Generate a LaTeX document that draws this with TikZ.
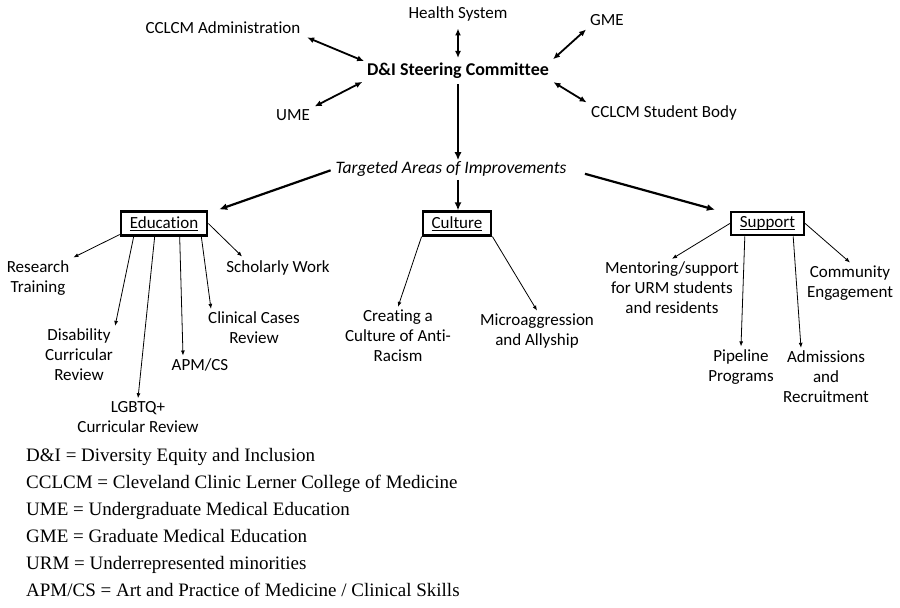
\documentclass[tikz,border=0pt]{standalone}
\usepackage{fontspec}
\setmainfont[Ligatures=NoCommon]{Carlito}
\newfontfamily\legendfont{Liberation Serif}
\usetikzlibrary{arrows.meta,positioning}
% underline as Word draws it: through the descenders
\newcommand\areaul[1]{\setbox0\hbox{#1}\rlap{\rule[-2.2pt]{\wd0}{0.9pt}}#1}

\begin{document}
\begin{tikzpicture}[x=1pt,y=-1pt,
  lbl/.style={font=\fontsize{17}{20}\selectfont,align=center,inner sep=1pt},
  area/.style={draw,line width=2.2pt,inner xsep=9pt,inner ysep=5pt,font=\fontsize{17}{20}\selectfont},
  dbl/.style={{Latex[length=7pt,width=6pt]}-{Latex[length=7pt,width=6pt]},line width=1.8pt},
  big/.style={-{Latex[length=8pt,width=7pt]},line width=2.2pt},
  thin/.style={-{Latex[length=5pt,width=4pt]},line width=0.8pt}]
\useasboundingbox (0,0) rectangle (900,608);
% top level
\node[lbl] (hs) at (458,14){Health System};
\node[lbl] (admin) at (223,28){CCLCM Administration};
\node[lbl] (gme) at (607,20){GME};
\node[lbl,font=\fontsize{18}{20}\selectfont\bfseries] (dni) at (458,71){D\&I Steering Committee};
\node[lbl] (ume) at (293,115){UME};
\node[lbl] (stu) at (664,113){CCLCM Student Body};
\draw[dbl,shorten <=6pt,shorten >=2pt] (admin.south east) -- (dni.north west);
\draw[dbl,shorten <=6pt,shorten >=4pt] (hs.south) -- (dni.north);
\draw[dbl,shorten <=4pt,shorten >=4pt] (gme.south west) -- (dni.north east);
\draw[dbl,shorten <=4pt,shorten >=4pt] (ume.north east) -- (dni.south west);
\draw[dbl,shorten <=4pt,shorten >=4pt] (stu.north west) -- (dni.south east);
% targeted areas
\node[lbl,font=\fontsize{17.5}{20}\selectfont\itshape] (tai) at (451,169){Targeted Areas of Improvements};
\draw[big,shorten <=4pt] (dni.south) -- (tai.north -| dni.south);
\node[area] (edu) at (164,223.5){\areaul{Education}};
\node[area] (cul) at (457,223.5){\areaul{Culture}};
\node[area] (sup) at (767.5,223.5){\areaul{Support}};
\draw[big,shorten <=4pt,shorten >=3pt] (tai.west) -- ([xshift=8pt]edu.north east);
\draw[big,shorten <=2pt] (tai.south -| dni.south) -- (cul.north -| dni.south);
\draw[big,shorten <=18pt,shorten >=3pt] (tai.east) -- ([xshift=-12pt]sup.north west);
% education
\node[lbl] (rt) at (38,278){Research\\Training};
\node[lbl] (dis) at (79,355){Disability\\Curricular\\Review};
\node[lbl] (lgb) at (138,417){LGBTQ+\\Curricular Review};
\node[lbl] (apm) at (200,365){APM/CS};
\node[lbl] (ccr) at (254,328){Clinical Cases\\Review};
\node[lbl] (sw) at (278,268){Scholarly Work};
\draw[thin] (edu.-166) -- ([xshift=3pt,yshift=2pt]rt.north east);
\draw[thin] ([xshift=14pt]edu.south west) -- ([xshift=1pt,yshift=2pt]dis.north east);
\draw[thin] ([xshift=35pt]edu.south west) -- ([yshift=2pt]lgb.north);
\draw[thin] ([xshift=60pt]edu.south west) -- ([xshift=-17pt,yshift=2pt]apm.north);
\draw[thin] ([xshift=-7pt]edu.south east) -- ([xshift=4pt,yshift=2pt]ccr.north west);
\draw[thin] (edu.east) -- ([xshift=17pt,yshift=3pt]sw.north west);
% culture
\node[lbl] (car) at (398,336){Creating a\\Culture of Anti-\\Racism};
\node[lbl] (mic) at (537,331){Microaggression\\and Allyship};
\draw[thin] (cul.south west) -- ([yshift=2pt]car.north);
\draw[thin] (cul.south east) -- ([yshift=2pt]mic.north);
% support
\node[lbl] (men) at (672,288){Mentoring/support\\for URM students\\and residents};
\node[lbl] (pip) at (741,367){Pipeline\\Programs};
\node[lbl] (adm) at (826,377){Admissions\\and\\Recruitment};
\node[lbl] (com) at (850,283){Community\\Engagement};
\draw[thin] (sup.west) -- ([yshift=2pt]men.north);
\draw[thin] ([xshift=15pt]sup.south west) -- ([yshift=2pt]pip.north);
\draw[thin] ([xshift=-12pt]sup.south east) -- ([xshift=-25pt,yshift=2pt]adm.north);
\draw[thin] (sup.east) -- ([yshift=2pt]com.north);
% legend
\node[anchor=north west,align=left,inner sep=0pt,font=\legendfont\fontsize{19}{27}\selectfont] (leg) at (26,448){%
D\&I = Diversity Equity and Inclusion\\
CCLCM = Cleveland Clinic Lerner College of Medicine\\
UME = Undergraduate Medical Education\\
GME = Graduate Medical Education\\
URM = Underrepresented minorities\\
APM/CS = Art and Practice of Medicine / Clinical Skills};
\end{tikzpicture}
\end{document}
